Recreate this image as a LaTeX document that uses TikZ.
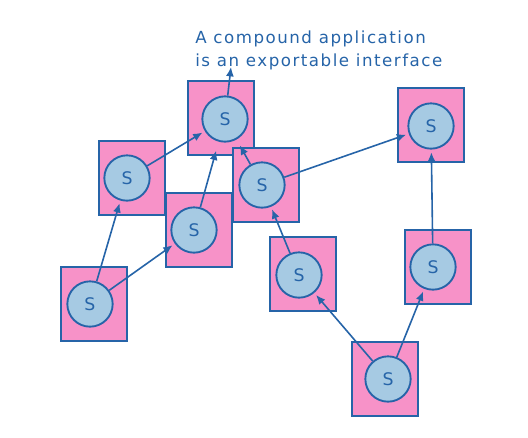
\documentclass[tikz,border=0pt]{standalone}
\usepackage{fontspec}
\setmainfont{DejaVu Sans}
\usetikzlibrary{arrows.meta}

\definecolor{svcpink}{RGB}{247,146,200}
\definecolor{svcblue}{RGB}{166,202,227}
\definecolor{lineblue}{RGB}{38,100,168}

\tikzset{
  svcbox/.style={draw=lineblue, fill=svcpink, line width=1.4pt,
    minimum width=50pt, minimum height=56pt, inner sep=0pt},
  svc/.style={circle, draw=lineblue, fill=svcblue, line width=1.4pt,
    minimum size=34pt, inner sep=0pt, text=lineblue,
    font=\fontsize{13}{15}\selectfont},
  flow/.style={draw=lineblue, line width=1.2pt,
    -{Latex[length=7pt,width=6pt]}, shorten >=2pt}
}

\begin{document}
\begin{tikzpicture}[x=0.75pt,y=-0.75pt]
        \useasboundingbox (0,0) rectangle (528,437);
        % services
        \node[svcbox] (b1) at (221,118) {};
        \node[svc] (s1) at (225,119) {S};
        \node[svcbox] (b2) at (431,125) {};
        \node[svc] (s2) at (431,126) {S};
        \node[svcbox] (b3) at (132,178) {};
        \node[svc] (s3) at (127,178) {S};
        \node[svcbox] (b4) at (199,230) {};
        \node[svc] (s4) at (194,230) {S};
        \node[svcbox] (b5) at (266,185) {};
        \node[svc] (s5) at (262,185) {S};
        \node[svcbox] (b6) at (94,304) {};
        \node[svc] (s6) at (90,304) {S};
        \node[svcbox] (b7) at (303,274) {};
        \node[svc] (s7) at (299,275) {S};
        \node[svcbox] (b8) at (438,267) {};
        \node[svc] (s8) at (433,267) {S};
        \node[svcbox] (b9) at (385,379) {};
        \node[svc] (s9) at (388,379) {S};
        % label
        \node[anchor=north west, align=left, text=lineblue, inner sep=0pt,
          font=\fontsize{12.5}{17}\selectfont\addfontfeature{LetterSpace=9}]
          (iface) at (195,31)
          {A compound application\\is an exportable interface};
        \coordinate (exp) at (231,67);
        % connections
        \draw[flow] (s6) -- (s3);
        \draw[flow] (s6) -- (s4);
        \draw[flow] (s3) -- (s1);
        \draw[flow, shorten >=7pt] (s4) -- (s1);
        \draw[flow, shorten >=5pt] (s5) -- (s1);
        \draw[flow] (s5) -- (s2);
        \draw[flow, shorten >=0pt] (s1) -- (exp);
        \draw[flow] (s8) -- (s2);
        \draw[flow] (s7) -- (s5);
        \draw[flow] (s9) -- (s7);
        \draw[flow] (s9) -- (s8);
\end{tikzpicture}
\end{document}
